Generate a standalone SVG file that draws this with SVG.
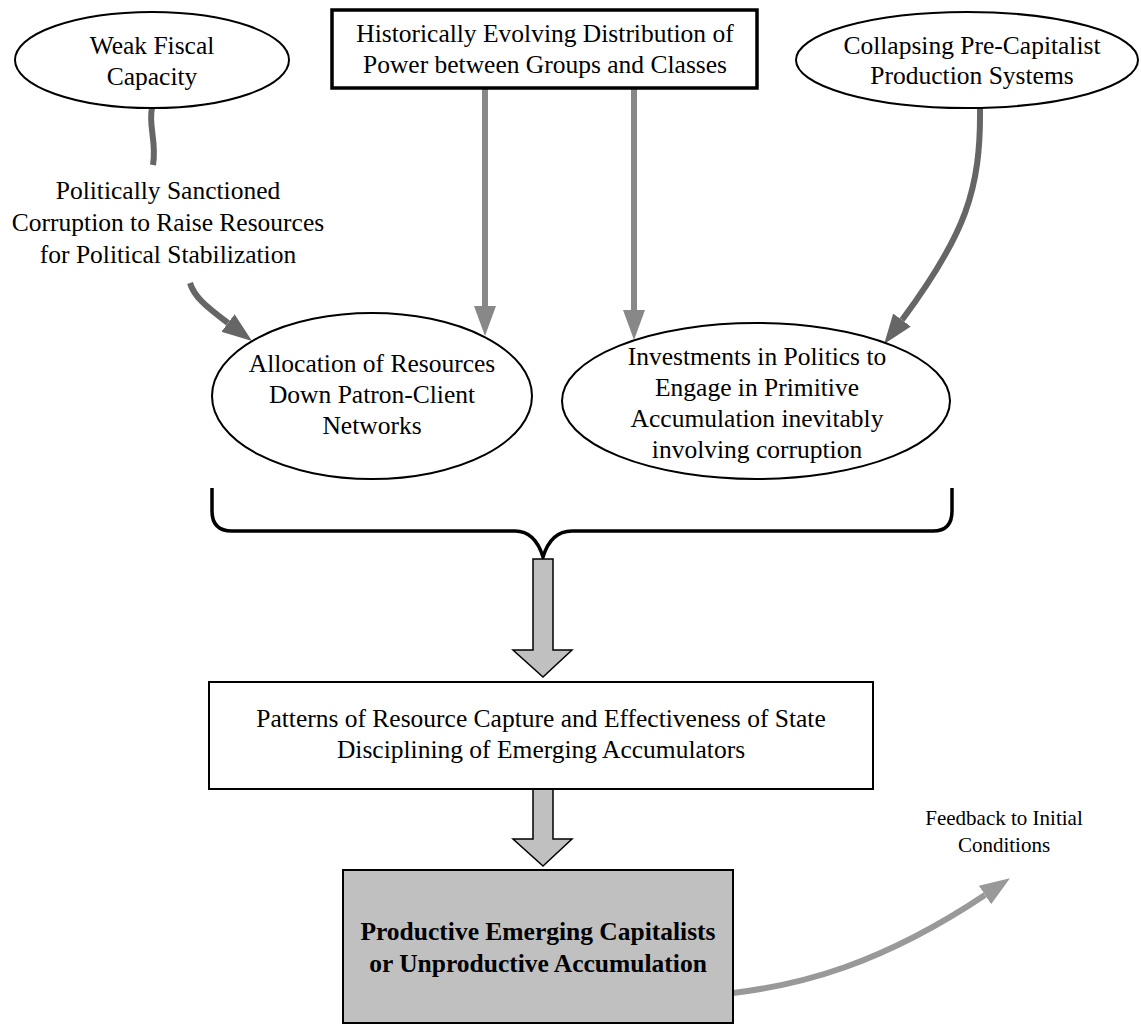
<svg xmlns="http://www.w3.org/2000/svg" width="1141" height="1026" viewBox="0 0 1141 1026">
<style>
  text { font-family: "Liberation Serif", "Times New Roman", serif; font-size: 25.5px; fill: #000; text-anchor: middle; }
  .bold { font-weight: bold; }
  .small { font-size: 21px; }
  .oval { fill: #fff; stroke: #000; stroke-width: 2; }
  .box { fill: #fff; stroke: #000; stroke-width: 2; }
  .thick { stroke-width: 3.5; }
  .grey { fill: #c0c0c0; stroke: #000; stroke-width: 2; }
  .dark { fill: none; stroke: #666; stroke-width: 6; }
  .mid { fill: none; stroke: #888; stroke-width: 6; }
  .light { fill: none; stroke: #999; stroke-width: 6; }
  .brace { fill: none; stroke: #000; stroke-width: 3.5; }
  .block { fill: #c0c0c0; stroke: #000; stroke-width: 1.5; }
</style>
<defs>
  <marker id="hd" markerUnits="userSpaceOnUse" markerWidth="32" markerHeight="26" refX="0" refY="13" orient="auto">
    <path d="M0,2 L30,13 L0,24 z" fill="#666"/>
  </marker>
  <marker id="hm" markerUnits="userSpaceOnUse" markerWidth="32" markerHeight="26" refX="0" refY="13" orient="auto">
    <path d="M0,2 L30,13 L0,24 z" fill="#888"/>
  </marker>
  <marker id="hl" markerUnits="userSpaceOnUse" markerWidth="32" markerHeight="26" refX="0" refY="13" orient="auto">
    <path d="M0,2 L30,13 L0,24 z" fill="#999"/>
  </marker>
</defs>
<rect width="1141" height="1026" fill="#fff"/>

<g id="connectors">
  <path class="dark" d="M152,108 C148,125 157,142 153,165"/>
  <path class="dark" d="M190,283 C194,296 204,305 228,323" marker-end="url(#hd)"/>
  <path class="mid" d="M485,88 L485,306" marker-end="url(#hm)"/>
  <path class="mid" d="M634,88 L634,310" marker-end="url(#hm)"/>
  <path class="dark" d="M980,108 C981,190 965,235 902,320" marker-end="url(#hd)"/>
  <path class="brace" d="M212,488 L212,511 Q212,531 232,531 L515,531 Q535,531 543,557 Q551,531 572,531 L933,531 Q952,531 952,511 L952,488"/>
  <polygon class="block" points="533,559 553,559 553,650 572,650 543,677 513,650 533,650"/>
  <polygon class="block" points="533,789 553,789 553,839 572,839 543,866 513,839 533,839"/>
  <path class="light" d="M733,993 C800,985 880,965 985,895" marker-end="url(#hl)"/>
</g>

<g id="weak-fiscal">
  <ellipse class="oval" cx="152" cy="60" rx="137" ry="48"/>
  <text x="152" y="54">Weak Fiscal</text>
  <text x="152" y="85">Capacity</text>
</g>

<g id="historical-power">
  <rect class="box thick" x="332" y="10" width="425" height="78"/>
  <text x="545" y="42">Historically Evolving Distribution of</text>
  <text x="545" y="73">Power between Groups and Classes</text>
</g>

<g id="collapsing">
  <ellipse class="oval" cx="967" cy="60" rx="171" ry="48"/>
  <text x="972" y="54">Collapsing Pre-Capitalist</text>
  <text x="972" y="84">Production Systems</text>
</g>

<g id="sanctioned-corruption">
  <text x="168" y="199">Politically Sanctioned</text>
  <text x="168" y="231">Corruption to Raise Resources</text>
  <text x="168" y="263">for Political Stabilization</text>
</g>

<g id="allocation">
  <ellipse class="oval" cx="372" cy="396" rx="160" ry="83"/>
  <text x="372" y="372">Allocation of Resources</text>
  <text x="372" y="403">Down Patron-Client</text>
  <text x="372" y="434">Networks</text>
</g>

<g id="investments">
  <ellipse class="oval" cx="756" cy="401" rx="194" ry="78"/>
  <text x="757" y="365">Investments in Politics to</text>
  <text x="757" y="396">Engage in Primitive</text>
  <text x="757" y="427">Accumulation inevitably</text>
  <text x="757" y="458">involving corruption</text>
</g>

<g id="patterns">
  <rect class="box" x="209" y="682" width="664" height="107"/>
  <text x="541" y="727">Patterns of Resource Capture and Effectiveness of State</text>
  <text x="541" y="758">Disciplining of Emerging Accumulators</text>
</g>

<g id="outcome">
  <rect class="grey" x="343" y="870" width="390" height="153"/>
  <text class="bold" x="538" y="940">Productive Emerging Capitalists</text>
  <text class="bold" x="538" y="972">or Unproductive Accumulation</text>
</g>

<g id="feedback">
  <text class="small" x="1004" y="825">Feedback to Initial</text>
  <text class="small" x="1004" y="852">Conditions</text>
</g>
</svg>
